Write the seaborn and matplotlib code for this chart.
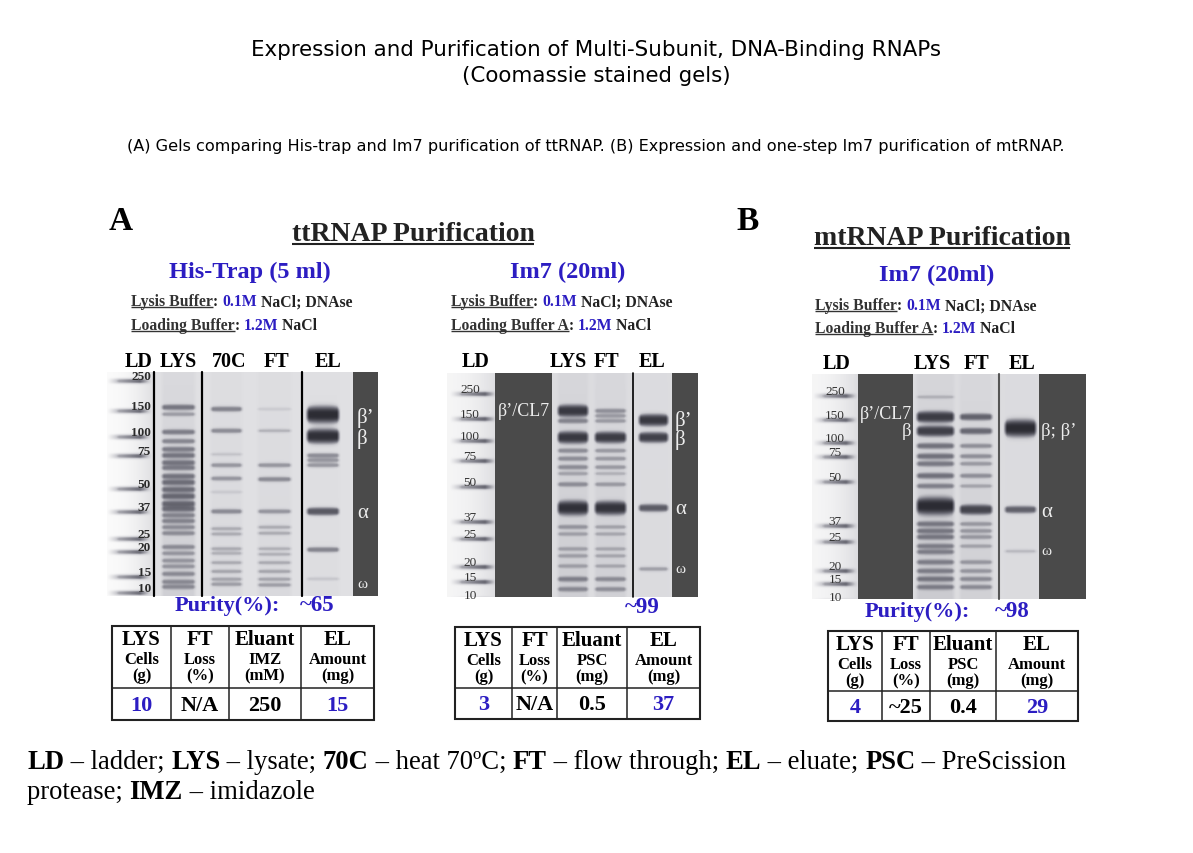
import numpy as np
import matplotlib
matplotlib.use("Agg")
import matplotlib.pyplot as plt
from matplotlib.colors import LinearSegmentedColormap
from matplotlib.patches import Rectangle
import seaborn as sns

ladder_kda = [250, 150, 100, 75, 50, 37, 25, 20, 15, 10]

# His-Trap gel (ttRNAP)
his_lys_kda = [147, 132, 100, 87, 77, 71, 65, 61, 55, 51, 46.5, 42.6, 38.6, 36, 32.8, 30.2, 27.6, 25.3, 20, 18.6, 17.1, 16, 14.3, 11.7, 10.3]
his_lys_amt = [0.45, 0.25, 0.4, 0.35, 0.4, 0.45, 0.45, 0.4, 0.45, 0.5, 0.5, 0.55, 0.55, 0.5, 0.35, 0.35, 0.3, 0.3, 0.3, 0.25, 0.25, 0.25, 0.3, 0.3, 0.3]
his_70c_kda = [143, 102, 72, 63, 53.5, 45, 34.7, 27, 25, 19.6, 18.6, 16.7, 15.1, 12.5, 11]
his_70c_amt = [0.4, 0.35, 0.12, 0.3, 0.3, 0.1, 0.35, 0.2, 0.2, 0.2, 0.18, 0.2, 0.22, 0.22, 0.25]
his_ft_kda = [143, 102, 63, 53, 34.7, 27.6, 25.3, 19.6, 18.4, 16.7, 15.1, 12.5, 10.8]
his_ft_amt = [0.1, 0.18, 0.3, 0.35, 0.3, 0.2, 0.2, 0.18, 0.18, 0.2, 0.22, 0.22, 0.25]
his_el_kda = [131, 94, 71, 67, 63, 34.7, 19.4, 12.6]
his_el_amt = [2.0, 1.7, 0.35, 0.3, 0.3, 0.75, 0.4, 0.12]

# Im7 gel (ttRNAP)
im7_lys_kda = [160, 132, 98, 81, 72, 63, 57, 49, 40, 29.4, 25, 22.2, 21, 18.5, 14.3, 11.4]
im7_lys_amt = [1.3, 0.35, 1.3, 0.3, 0.3, 0.3, 0.2, 0.3, 1.6, 0.25, 0.2, 0.2, 0.2, 0.2, 0.35, 0.3]
im7_ft_kda = [160, 145, 132, 98, 81, 72, 63, 57, 49, 40, 29.4, 25, 22.2, 21, 18.5, 14.3, 11.4]
im7_ft_amt = [0.3, 0.25, 0.25, 1.2, 0.25, 0.25, 0.25, 0.15, 0.25, 1.5, 0.2, 0.18, 0.18, 0.18, 0.18, 0.3, 0.28]
im7_el_kda = [134, 98, 40, 17.5]
im7_el_amt = [1.3, 1.1, 0.7, 0.25]

# Im7 gel (mtRNAP)
mt_lys_kda = [220, 145, 113, 85, 70, 62, 51, 47, 41, 34.4, 29, 25, 23.3, 22.3, 20.6, 17.9, 15, 12.5]
mt_lys_amt = [0.15, 1.2, 1.1, 0.45, 0.45, 0.4, 0.45, 0.35, 2.0, 0.4, 0.4, 0.4, 0.35, 0.35, 0.35, 0.35, 0.4, 0.35]
mt_ft_kda = [145, 113, 85, 70, 62, 51, 47, 40, 34.4, 29, 25, 23.3, 20.6, 17.9, 15, 12.5]
mt_ft_amt = [0.6, 0.55, 0.3, 0.3, 0.25, 0.3, 0.2, 1.0, 0.25, 0.25, 0.25, 0.2, 0.25, 0.25, 0.3, 0.3]
mt_el_kda = [119, 40, 22.4]
mt_el_amt = [2.0, 0.65, 0.15]

his_lanes = ["LD", "LYS", "70C", "FT", "EL"]
im7_lanes = ["LD", "LYS", "FT", "EL"]

table_top = ["LYS", "FT", "Eluant", "EL"]
his_mid = ["Cells", "Loss", "IMZ", "Amount"]
his_unit = ["(g)", "(%)", "(mM)", "(mg)"]
psc_mid = ["Cells", "Loss", "PSC", "Amount"]
psc_unit = ["(g)", "(%)", "(mg)", "(mg)"]
his_values = ["10", "N/A", "250", "15"]
im7_values = ["3", "N/A", "0.5", "37"]
mt_values = ["4", "~25", "0.4", "29"]
purity = ["~65", "~99", "~98"]

# ---- style ----
sns.set_theme(style="white")
SERIF = ["Liberation Serif", "DejaVu Serif"]
SANS = ["DejaVu Sans"]
plt.rcParams["font.family"] = SANS
BLUE = "#2c1dc2"
DARK = "#4a4a4a"
LIGHT = "#ececec"
gel_cmap = LinearSegmentedColormap.from_list(
    "gel", [(0.98, 0.98, 0.98), (0.80, 0.80, 0.82), (0.45, 0.45, 0.49), (0.15, 0.15, 0.18)])

W, H = 1193, 854
fig = plt.figure(figsize=(W / 100, H / 100), dpi=100)
R = fig.canvas.get_renderer()


def kda_to_y(kda, marker_y):
    lk = np.log(np.asarray(ladder_kda, float))[::-1]
    return np.interp(np.log(kda), lk, np.asarray(marker_y, float)[::-1])


def lane_mask(xs, xa, xb, soft=4.0):
    return np.clip((xs - xa) / soft, 0, 1) * np.clip((xb - xs) / soft, 0, 1)


def gel_array(box, bg, marker_y, lanes, ladder):
    x0, y0, x1, y1 = box
    xs = np.arange(x0, x1) + 0.5
    ys = np.arange(y0, y1) + 0.5
    Y = ys[:, None]
    base = np.full((len(ys), len(xs)), bg)
    keep = np.ones_like(base)
    la, lb, shift, white = ladder
    ramp = np.clip((xs - x0) / (lb - x0), 0, 1)
    zone = xs < lb
    base[:, zone] = (white + (bg - white) * ramp[zone] ** 2)[None, :]
    lprof = lane_mask(xs, la, lb, soft=12) * (0.45 + 0.55 * np.clip((xs - la) / (lb - la), 0, 1))
    for k in ladder_kda:
        yc = kda_to_y(k, marker_y) + shift
        keep *= 1 - 0.78 * np.exp(-0.5 * np.abs((Y - yc) / 2.0) ** 2.5) * lprof[None, :]
    for (xa, xb), kdas, amts, smear in lanes:
        xprof = lane_mask(xs, xa, xb)
        xc, half = (xa + xb) / 2, (xb - xa) / 2
        u = np.clip(np.abs(xs - xc) / half, 0, 1)
        base = base + smear * xprof[None, :] * (0.4 + 0.6 * (Y - y0) / (y1 - y0))
        for k, a in zip(kdas, amts):
            yc = kda_to_y(k, marker_y)
            sig = (1.1 + 3.0 * a) * (1 - 0.35 * u ** 4)
            dark = 1 - np.exp(-1.7 * a)
            p = 2.0 + min(a, 1.0)
            prof = dark * np.exp(-0.5 * np.abs((Y - yc) / sig[None, :]) ** p) * xprof[None, :]
            keep *= 1 - prof
    return 1 - (1 - np.clip(base, 0, 1)) * keep


def draw_gel(box, img):
    x0, y0, x1, y1 = box
    gax = fig.add_axes([x0 / W, 1 - y1 / H, (x1 - x0) / W, (y1 - y0) / H])
    sns.heatmap(img, ax=gax, cmap=gel_cmap, vmin=0, vmax=1, cbar=False,
                xticklabels=False, yticklabels=False, rasterized=True)
    gax.set_axis_off()


# gel layouts (pixel boxes)
gel1 = (107, 373, 378, 597)
gel2 = (447, 374, 698, 598)
gel3 = (812, 375, 1086, 600)
his_marker_y = [377, 407, 433, 452, 485, 508, 535, 548, 573, 589]
im7_marker_y = [390, 415, 437, 457, 483, 518, 535, 563, 578, 596]
mt_marker_y = [392, 416, 439, 453, 478, 522, 538, 567, 580, 598]

img1 = gel_array(gel1, 0.19, his_marker_y, [
    ((160, 197), his_lys_kda, his_lys_amt, 0.12),
    ((209, 244), his_70c_kda, his_70c_amt, 0.05),
    ((256, 293), his_ft_kda, his_ft_amt, 0.05),
    ((305, 341), his_el_kda, his_el_amt, 0.02)], (107, 152, 5, 0.0))
img2 = gel_array(gel2, 0.22, im7_marker_y, [
    ((556, 590), im7_lys_kda, im7_lys_amt, 0.10),
    ((593, 628), im7_ft_kda, im7_ft_amt, 0.08),
    ((637, 670), im7_el_kda, im7_el_amt, 0.01)], (450, 497, 5, 0.04))
img3 = gel_array(gel3, 0.22, mt_marker_y, [
    ((915, 956), mt_lys_kda, mt_lys_amt, 0.12),
    ((958, 994), mt_ft_kda, mt_ft_amt, 0.08),
    ((1003, 1038), mt_el_kda, mt_el_amt, 0.01)], (813, 858, 5, 0.04))
for box, img in [(gel1, img1), (gel2, img2), (gel3, img3)]:
    draw_gel(box, img)

# overlay axes in pixel coordinates
ax = fig.add_axes([0, 0, 1, 1])
ax.set_xlim(0, W)
ax.set_ylim(H, 0)
ax.set_axis_off()


def seg_width(txt, size, weight, family):
    a = ax.text(0, 0, "I" + txt + "I", fontsize=size, fontweight=weight, family=family)
    b = ax.text(0, 0, "II", fontsize=size, fontweight=weight, family=family)
    w = a.get_window_extent(R).width - b.get_window_extent(R).width
    a.remove()
    b.remove()
    return w


def rich(x, y, parts, size, ha="left", family=SERIF, ul_lw=1.0):
    s = size * 100 / 72
    base = y + 0.34 * s
    widths = [seg_width(p[0], size, p[1], family) for p in parts]
    total = sum(widths)
    cx = x - {"left": 0, "center": total / 2, "right": total}[ha]
    for (txt, weight, color, ul), w in zip(parts, widths):
        ax.text(cx, base, txt, fontsize=size, fontweight=weight, color=color,
                family=family, ha="left", va="baseline")
        if ul:
            ax.plot([cx, cx + w], [base + 0.11 * s] * 2, color=color, lw=ul_lw,
                    solid_capstyle="butt")
        cx += w


def txt(x, y, s, size, color="black", weight="bold", ha="center", family=SERIF):
    ax.text(x, y, s, fontsize=size, color=color, fontweight=weight, ha=ha,
            va="center", family=family)


# titles
txt(596, 50, "Expression and Purification of Multi-Subunit, DNA-Binding RNAPs", 15.4,
    weight="normal", family=SANS)
txt(596, 76, "(Coomassie stained gels)", 15.4, weight="normal", family=SANS)
txt(596, 147, "(A) Gels comparing His-trap and Im7 purification of ttRNAP. "
    "(B) Expression and one-step Im7 purification of mtRNAP.", 11.65,
    weight="normal", family=SANS)

txt(121, 222, "A", 24)
txt(748, 222, "B", 24)
rich(413, 232, [("ttRNAP Purification", "bold", "#222222", True)], 20, ha="center", ul_lw=1.5)
rich(942, 236, [("mtRNAP Purification", "bold", "#222222", True)], 20, ha="center", ul_lw=1.5)
txt(250, 272, "His-Trap (5 ml)", 17.5, color=BLUE)
txt(568, 272, "Im7 (20ml)", 17.5, color=BLUE)
txt(937, 275, "Im7 (20ml)", 17.5, color=BLUE)

for x, y1, y2, load in [(131, 301, 325, "Loading Buffer"),
                        (451, 301, 325, "Loading Buffer A"),
                        (815, 305, 328, "Loading Buffer A")]:
    rich(x, y1, [("Lysis Buffer", "bold", "#333333", True), (": ", "bold", "#222222", False),
                 ("0.1M", "bold", BLUE, False), (" NaCl; DNAse", "bold", "#222222", False)], 11.3)
    rich(x, y2, [(load, "bold", "#333333", True), (": ", "bold", "#222222", False),
                 ("1.2M", "bold", BLUE, False), (" NaCl", "bold", "#222222", False)], 11.3)

# lane headers
for lab, x in zip(his_lanes, [139, 178, 229, 277, 328]):
    txt(x, 362, lab, 14.5)
for lab, x in zip(im7_lanes, [476, 568, 607, 652]):
    txt(x, 362, lab, 14.5)
for lab, x in zip(im7_lanes, [837, 932, 977, 1022]):
    txt(x, 364, lab, 14.5)

# dark panels, lane separators
for x0, x1, y0, y1 in [(353, 378, 373, 597), (495, 552, 374, 598), (672, 698, 374, 598),
                       (858, 913, 375, 600), (1039, 1086, 375, 600)]:
    ax.add_patch(Rectangle((x0, y0), x1 - x0, y1 - y0, color=DARK, lw=0))
for x in [154, 202, 302]:
    ax.plot([x, x], [373, 597], color="black", lw=1.6)
ax.plot([633, 633], [374, 598], color="black", lw=1.2)
ax.plot([999, 999], [375, 600], color="#555555", lw=1.5)

# ladder numbers
for k, y in zip(ladder_kda, his_marker_y):
    txt(151, y, str(k), 9.5, color="#2a2a2a", ha="right")
for k, y in zip(ladder_kda, im7_marker_y):
    txt(470, y, str(k), 9.5, color="#333333", weight="normal")
for k, y in zip(ladder_kda, mt_marker_y):
    txt(835, y, str(k), 9.5, color="#333333", weight="normal")

# subunit labels
for s, y, fs in [("β’", 418, 15), ("β", 439, 15), ("α", 514, 15), ("ω", 585, 11)]:
    txt(357, y, s, fs, color=LIGHT, weight="normal", ha="left")
for s, y, fs in [("β’", 421, 15), ("β", 440, 15), ("α", 510, 15), ("ω", 570, 11)]:
    txt(675, y, s, fs, color=LIGHT, weight="normal", ha="left")
for s, y, fs in [("β; β’", 432, 13.5), ("α", 513, 15), ("ω", 552, 11)]:
    txt(1041, y, s, fs, color=LIGHT, weight="normal", ha="left")
txt(498, 412, "β’/CL7", 13, color=LIGHT, weight="normal", ha="left")
txt(860, 415, "β’/CL7", 13, color=LIGHT, weight="normal", ha="left")
txt(911, 432, "β", 13.5, color=LIGHT, weight="normal", ha="right")

# purity
txt(175, 606, "Purity(%):", 16, color=BLUE, ha="left")
txt(300, 606, purity[0], 16.5, color=BLUE, ha="left")
txt(625, 608, purity[1], 16.5, color=BLUE, ha="left")
txt(865, 612, "Purity(%):", 16, color=BLUE, ha="left")
txt(995, 612, purity[2], 16.5, color=BLUE, ha="left")


def draw_table(left, top, right, bottom, mid, cols, mids, units, values):
    ax.add_patch(Rectangle((left, top), right - left, bottom - top, fill=False,
                           ec="#222222", lw=1.5))
    for c in cols:
        ax.plot([c, c], [top, bottom], color="#222222", lw=1.1)
    ax.plot([left, right], [mid, mid], color="#222222", lw=1.1)
    edges = [left] + cols + [right]
    for i in range(4):
        cx = (edges[i] + edges[i + 1]) / 2
        txt(cx, top + 13, table_top[i], 15)
        txt(cx, top + 33, mids[i], 12)
        txt(cx, top + 49, units[i], 12)
        col = BLUE if i in (0, 3) else "black"
        txt(cx, (mid + bottom) / 2 + 1, values[i], 16, color=col)


draw_table(112, 627, 374, 721, 689, [171, 229, 301], his_mid, his_unit, his_values)
draw_table(455, 628, 700, 720, 689, [512, 557, 627], psc_mid, psc_unit, im7_values)
draw_table(828, 632, 1078, 722, 692, [882, 930, 996], psc_mid, psc_unit, mt_values)

# caption
rich(27, 760, [("LD", "bold", "black", False), (" – ladder; ", "normal", "black", False),
               ("LYS", "bold", "black", False), (" – lysate; ", "normal", "black", False),
               ("70C", "bold", "black", False), (" – heat 70ºC; ", "normal", "black", False),
               ("FT", "bold", "black", False), (" – flow through; ", "normal", "black", False),
               ("EL", "bold", "black", False), (" – eluate; ", "normal", "black", False),
               ("PSC", "bold", "black", False), (" – PreScission", "normal", "black", False)], 19.2)
rich(27, 790, [("protease; ", "normal", "black", False), ("IMZ", "bold", "black", False),
               (" – imidazole", "normal", "black", False)], 19.2)

fig.savefig("out.png", dpi=100)
